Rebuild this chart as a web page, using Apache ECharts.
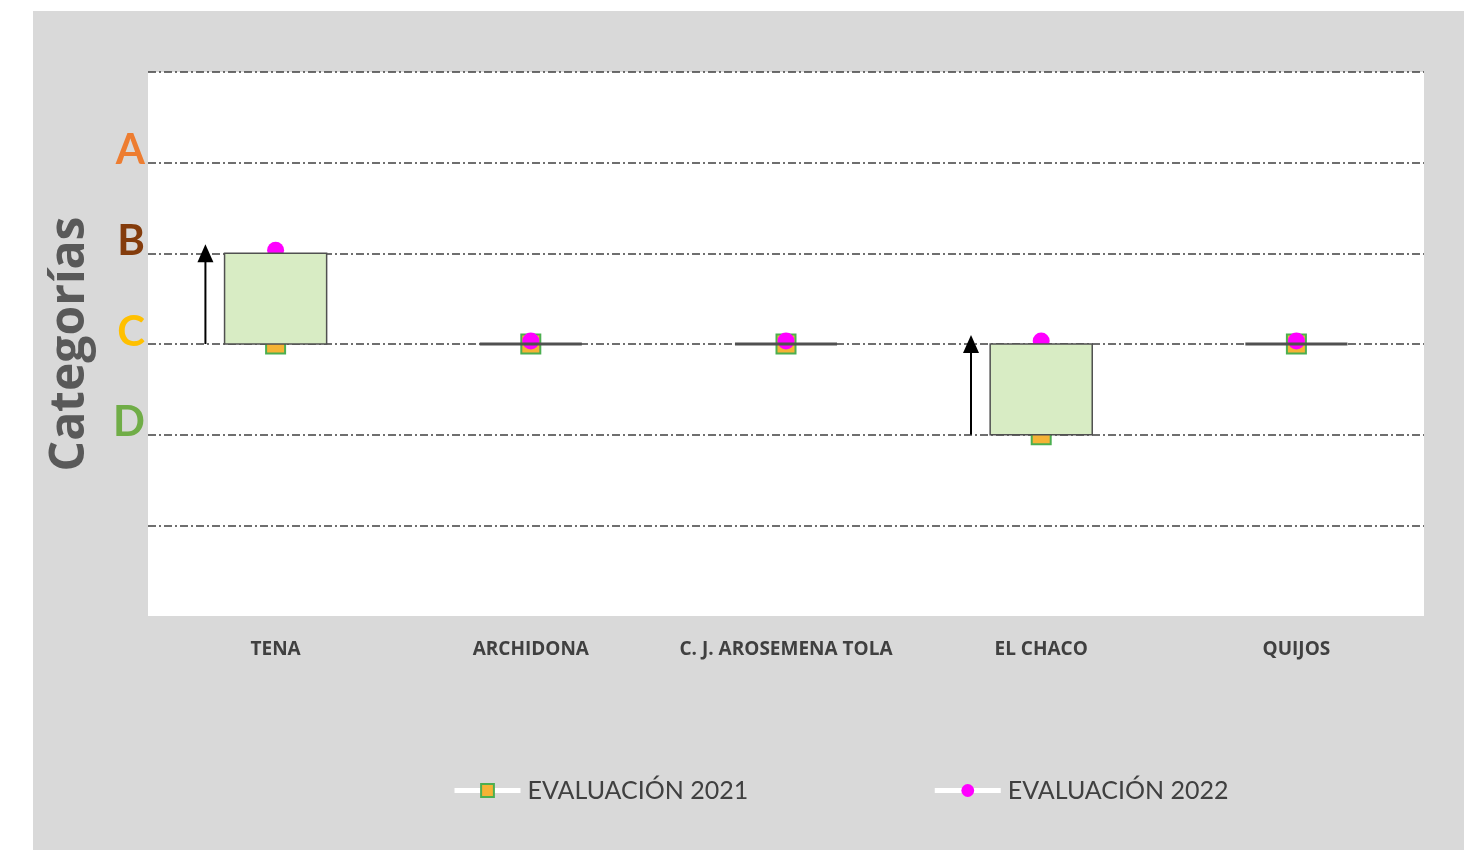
<!DOCTYPE html>
<html>
<head>
<meta charset="utf-8">
<script src="https://cdn.jsdelivr.net/npm/echarts@6/dist/echarts.min.js"></script>
<style>
  html, body { margin: 0; padding: 0; background: #fff; }
  #chart { position: absolute; left: 33px; top: 11px; width: 1431px; height: 839px; }
</style>
</head>
<body>
<div id="chart"></div>
<script>
// categorias (cantones)
const cantones = ['TENA', 'ARCHIDONA', 'C. J. AROSEMENA TOLA', 'EL CHACO', 'QUIJOS']
// nivel: 2 = D, 3 = C, 4 = B, 5 = A
const eval2021 = [3, 3, 3, 2, 3]
const eval2022 = [4, 3, 3, 3, 3]
const letras = ['', '', 'D', 'C', 'B', 'A', '']

const txt = '#404040'
const font = 'Lato'

// caja entre 2021 y 2022
const cajas = cantones.map((c, i) => [i, Math.min(eval2021[i], eval2022[i]), Math.max(eval2021[i], eval2022[i])])
// flecha solo donde mejora
const flechas = cantones.map((c, i) => [i, eval2021[i], eval2022[i]]).filter((d) => d[2] > d[1])

const chart = echarts.init(document.getElementById('chart'))
const option = {
  backgroundColor: '#d9d9d9',
  animation: false,
  grid: {
    left: 115, right: 40, top: 61, bottom: 234,
    outerBoundsMode: 'none', containLabel: false,
    show: true, backgroundColor: '#fff', borderWidth: 0,
  },
  legend: {
    left: 414,
    top: 762,
    itemWidth: 66,
    itemHeight: 16,
    itemGap: 184,
    textStyle: { fontFamily: font, fontSize: 25, color: txt, padding: [0, 0, 0, 2] },
    lineStyle: { color: '#fff', width: 5, opacity: 1 },
    data: ['EVALUACIÓN 2021', 'EVALUACIÓN 2022'],
  },
  xAxis: {
    type: 'category',
    data: cantones,
    axisLine: { show: false },
    axisTick: { show: false },
    axisLabel: { interval: 0, hideOverlap: false, margin: 24, fontFamily: 'Open Sans', fontWeight: 'bold', fontSize: 19, color: txt },
  },
  yAxis: {
    type: 'value',
    min: 0,
    max: 6,
    interval: 1,
    name: 'Categorías',
    nameLocation: 'middle',
    nameRotate: 90,
    nameGap: 54,
    nameTextStyle: { fontFamily: 'Open Sans', fontWeight: 'bold', fontSize: 48, color: '#595959' },
    axisLine: { show: false },
    axisTick: { show: false },
    splitLine: {
      lineStyle: {
        color: ['rgba(0,0,0,0)', txt, txt, txt, txt, txt, txt],
        width: 1.5,
        type: [8, 3, 2, 3],
      },
    },
    axisLabel: {
      margin: 3,
      verticalAlign: 'bottom',
      formatter: (v) => (letras[v] ? '{' + letras[v].toLowerCase() + '|' + letras[v] + '}' : ''),
      rich: {
        a: { color: '#ed7d31', fontSize: 42, fontWeight: 'bold', fontFamily: font, lineHeight: 24 },
        b: { color: '#843c0c', fontSize: 42, fontWeight: 'bold', fontFamily: font, lineHeight: 24 },
        c: { color: '#ffc000', fontSize: 42, fontWeight: 'bold', fontFamily: font, lineHeight: 24 },
        d: { color: '#70ad47', fontSize: 42, fontWeight: 'bold', fontFamily: font, lineHeight: 24 },
      },
    },
  },
  series: [
    {
      name: 'EVALUACIÓN 2021',
      type: 'line',
      data: eval2021,
      z: 2,
      symbol: 'rect',
      symbolSize: 19,
      itemStyle: { color: '#f5b335', borderColor: '#4caf50', borderWidth: 2 },
      lineStyle: { opacity: 0 },
    },
    {
      name: 'EVALUACIÓN 2022',
      type: 'line',
      data: eval2022,
      z: 3,
      symbol: 'circle',
      symbolSize: 17,
      symbolOffset: [0, -3],
      itemStyle: { color: '#ff00ff' },
      lineStyle: { opacity: 0 },
    },
    {
      type: 'custom',
      z: 4,
      data: cajas,
      renderItem: (params, api) => {
        const lo = api.coord([api.value(0), api.value(1)])
        const hi = api.coord([api.value(0), api.value(2)])
        const w = api.size([1, 0])[0] * 0.4
        if (hi[1] === lo[1]) {
          return {
            type: 'line',
            shape: { x1: lo[0] - w / 2, y1: lo[1], x2: lo[0] + w / 2, y2: lo[1] },
            style: { stroke: '#505050', lineWidth: 3 },
          }
        }
        return {
          type: 'rect',
          shape: { x: lo[0] - w / 2, y: hi[1], width: w, height: lo[1] - hi[1] },
          style: { fill: '#d8ecc4', stroke: '#505050', lineWidth: 1.5 },
        }
      },
    },
    {
      type: 'custom',
      z: 5,
      data: flechas,
      renderItem: (params, api) => {
        const a = api.coord([api.value(0), api.value(1)])
        const b = api.coord([api.value(0), api.value(2)])
        const x = a[0] - api.size([1, 0])[0] * 0.275
        const tip = b[1] - 9
        return {
          type: 'group',
          children: [
            { type: 'line', shape: { x1: x, y1: a[1], x2: x, y2: tip + 12 }, style: { stroke: '#000', lineWidth: 2 } },
            { type: 'polygon', shape: { points: [[x, tip], [x - 8, tip + 18], [x + 8, tip + 18]] }, style: { fill: '#000' } },
          ],
        }
      },
    },
  ],
}
chart.setOption(option)
window.addEventListener('resize', () => chart.resize())
</script>
</body>
</html>
